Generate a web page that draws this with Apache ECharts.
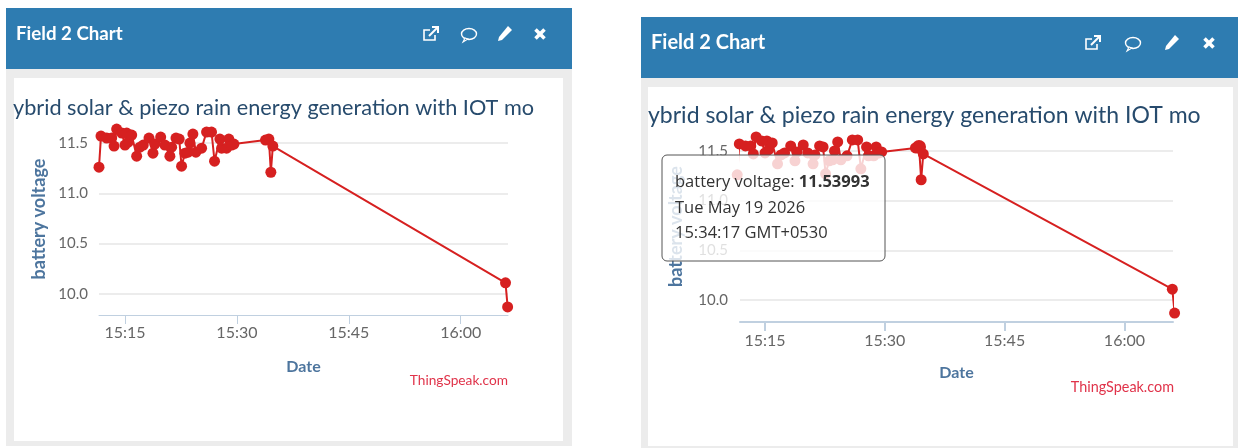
<!DOCTYPE html>
<html>
<head>
<meta charset="utf-8">
<title>Field 2 Chart</title>
<script src="https://cdn.jsdelivr.net/npm/echarts@6/dist/echarts.min.js"></script>
<style>
html, body { margin: 0; padding: 0; background: #fff; }
#chart { width: 1238px; height: 448px; }
</style>
</head>
<body>
<div id="chart"></div>
<script>
// same feed in both
var times = ['15:11:31','15:11:47','15:12:33','15:13:13','15:13:32','15:13:53','15:14:34','15:15:00','15:15:14','15:15:26','15:15:54',
	'15:16:34','15:17:00','15:17:27','15:18:13','15:18:45','15:19:00','15:19:47','15:20:21','15:21:01','15:21:15','15:21:50',
	'15:22:16','15:22:35','15:23:02','15:23:28','15:23:42','15:24:06','15:24:30','15:25:16','15:25:56','15:26:36','15:27:00',
	'15:27:43','15:27:57','15:28:37','15:28:55','15:29:17','15:29:36','15:33:50','15:34:17','15:34:33','15:34:49','16:06:00','16:06:17'];
var voltage = [11.26,11.57,11.55,11.55,11.47,11.64,11.60,11.48,11.60,11.51,11.58,
	11.37,11.46,11.48,11.55,11.40,11.49,11.56,11.48,11.37,11.46,11.55,
	11.54,11.27,11.40,11.41,11.50,11.59,11.41,11.45,11.61,11.61,11.32,
	11.54,11.45,11.45,11.54,11.48,11.49,11.53,11.53993,11.21,11.47,10.11,9.87];
var xTicks = ['15:15:00','15:30:00','15:45:00','16:00:00'];
var yTicks = [10,10.5,11,11.5];
var hoverTime = '15:34:17';
var tooltipLines = ['battery voltage: ','11.53993','Tue May 19 2026','15:34:17 GMT+0530'];
var titleText = 'ybrid solar & piezo rain energy generation with IOT mo';

function toMs(t){
	var p = t.split(':');
	return new Date(2026,4,19,+p[0],+p[1],+p[2]).getTime();
}
var seriesData = times.map(function(t,i){ return [toMs(t),voltage[i]]; });
var xTickValues = xTicks.map(toMs);
var hoverIndex = times.indexOf(hoverTime);

var blue = '#2e7cb1', grey = '#ececec', font = 'Lato', tipFont = '16.5px "Open Sans"';

// header icons, cx/cy is the middle of the icon
function icons(x1,x2,x3,x4,cy){
	var s = {fill:null, stroke:'#fff', lineWidth:1.6};
	function line(pts,style){
		return {type:'polyline', z:-5, x:0, y:0, shape:{points:pts}, style:style || s};
	}
	return [
		line([[x1+4,cy+1],[x1+4,cy+6],[x1-7,cy+6],[x1-7,cy-4],[x1-1,cy-4]]),
		line([[x1-2,cy+2],[x1+6,cy-6]],{fill:null, stroke:'#fff', lineWidth:2}),
		line([[x1+1,cy-7],[x1+7,cy-7],[x1+7,cy-1]],{fill:null, stroke:'#fff', lineWidth:2}),
		{type:'ellipse', z:-5, shape:{cx:x2,cy:cy,rx:7.5,ry:5.5}, style:{fill:blue, stroke:'#fff', lineWidth:1.4}},
		{type:'polygon', z:-4, shape:{points:[[x2-4,cy+4],[x2-1,cy+5],[x2-6,cy+8]]}, style:{fill:blue, stroke:'#fff', lineWidth:1.1}},
		{type:'polygon', z:-5, shape:{points:[[x3+3,cy-8],[x3+7,cy-4],[x3-3,cy+6],[x3-7,cy+7],[x3-6,cy+3]]}, style:{fill:'#fff'}},
		line([[x4-4.5,cy-4.5],[x4+4.5,cy+4.5]],{fill:null, stroke:'#fff', lineWidth:3.6}),
		line([[x4+4.5,cy-4.5],[x4-4.5,cy+4.5]],{fill:null, stroke:'#fff', lineWidth:3.6})
	];
}

function panel(p){
	return [
		{type:'rect', z:-10, shape:{x:p.x, y:p.y, width:p.w, height:p.h}, style:{fill:grey}},
		{type:'rect', z:-9, shape:{x:p.x, y:p.y, width:p.w, height:61}, style:{fill:blue}},
		{type:'rect', z:-9, shape:{x:p.bodyX, y:p.y+70, width:p.bodyW, height:p.bodyH}, style:{fill:'#fff'}},
		{type:'text', z:-5, x:p.x+10, y:p.y+26, style:{text:'Field 2 Chart', fill:'#fff', font:'bold '+p.headSize+'px '+font, textVerticalAlign:'middle'}},
		{type:'text', z:-5, x:p.titleX, y:p.titleY, style:{text:titleText, fill:'#274b6d', font:p.titleSize+'px '+font, textVerticalAlign:'middle'}},
		{type:'text', z:-5, x:p.creditX, y:p.creditY, style:{text:'ThingSpeak.com', fill:'#e0334a', font:p.creditSize+'px Lato', textAlign:'right', textVerticalAlign:'middle'}}
	].concat(icons(p.icons[0],p.icons[1],p.icons[2],p.icons[3],p.y+26));
}

var graphicEls = [].concat(
	panel({x:6,y:8,w:566,h:438,bodyX:14,bodyW:549,bodyH:363,headSize:18.7,titleSize:21.7,titleX:13,titleY:108,creditSize:13.7,creditX:508,creditY:381,icons:[431,469,505,540]}),
	panel({x:641,y:17,w:597,h:431,bodyX:648,bodyW:585,bodyH:359,headSize:20,titleSize:23,titleX:648,titleY:116,creditSize:14.4,creditX:1174,creditY:387,icons:[1093,1133,1172,1209]}),
	[
		// hover box of the right chart, sits on top of everything
		{type:'rect', z:100, shape:{x:662,y:155,width:223,height:106,r:5},
			style:{fill:'rgba(255,255,255,0.8)', stroke:'#555', lineWidth:1}},
		{type:'text', z:101, x:675, y:182, style:{
			text:'{a|'+tooltipLines[0]+'}{b|'+tooltipLines[1]+'}',
			textVerticalAlign:'middle',
			rich:{a:{fill:'#333',font:tipFont},b:{fill:'#333',font:'bold '+tipFont}}
		}},
		{type:'text', z:101, x:675, y:208, style:{text:tooltipLines[2], fill:'#333', font:tipFont, textVerticalAlign:'middle'}},
		{type:'text', z:101, x:675, y:233, style:{text:tooltipLines[3], fill:'#333', font:tipFont, textVerticalAlign:'middle'}}
	]
);

function xAxisOf(idx,minT,maxT,gap,margin,lineW){
	return {
		// plain value axis on epoch ms, time axis breaks on customValues
		type:'value', gridIndex:idx, scale:true,
		min:toMs(minT), max:toMs(maxT),
		name:'Date', nameLocation:'middle', nameGap:gap,
		nameTextStyle:{color:'#4d759e', fontWeight:'bold', fontSize:16, fontFamily:font},
		axisLine:{show:true, onZero:false, lineStyle:{color:'#c0d0e0', width:lineW}},
		axisTick:{show:true, length:9, customValues:xTickValues, lineStyle:{color:'#c0d0e0', width:lineW}},
		splitLine:{show:false},
		axisLabel:{
			customValues:xTickValues, margin:margin, color:'#666', fontSize:16, fontFamily:font, hideOverlap:false,
			formatter:function(v){ return echarts.time.format(v,'{HH}:{mm}',false); }
		}
	};
}

function yAxisOf(idx,min,gap,margin){
	return {
		type:'value', gridIndex:idx, scale:true,
		min:min, max:11.7,
		name:'battery voltage', nameLocation:'middle', nameGap:gap,
		nameTextStyle:{color:'#4d759e', fontWeight:'bold', fontSize:18, fontFamily:font},
		axisLine:{show:false},
		axisTick:{show:false, customValues:yTicks},
		splitLine:{show:true, lineStyle:{color:'#e6e6e6', width:1.5}},
		axisLabel:{
			customValues:yTicks, margin:margin, color:'#666', fontSize:15, fontFamily:font,
			formatter:function(v){ return v.toFixed(1); }
		}
	};
}

var chart = echarts.init(document.getElementById('chart'));
var option = {
	animation:false,
	backgroundColor:'transparent',
	graphic:{elements:graphicEls},
	grid:[
		{left:99, top:123, width:409, height:192},
		{left:740, top:131, width:433, height:191}
	],
	xAxis:[xAxisOf(0,'15:11:31','16:06:20',44,10,1), xAxisOf(1,'15:11:52','16:06:05',43,11,2)],
	yAxis:[yAxisOf(0,9.79,51,11), yAxisOf(1,9.78,55,12)],
	series:[
		{
			type:'line', xAxisIndex:0, yAxisIndex:0,
			data:seriesData, symbol:'circle', symbolSize:11,
			clip:false, showAllSymbol:true,
			itemStyle:{color:'#d62020'}, lineStyle:{color:'#d62020', width:2}
		},
		{
			type:'line', xAxisIndex:1, yAxisIndex:1,
			data:seriesData, symbol:'circle',
			symbolSize:function(v,params){ return params.dataIndex === hoverIndex ? 14 : 11; },
			clip:false, showAllSymbol:true,
			itemStyle:{color:'#d62020'}, lineStyle:{color:'#d62020', width:2}
		}
	]
};
chart.setOption(option);
</script>
</body>
</html>
